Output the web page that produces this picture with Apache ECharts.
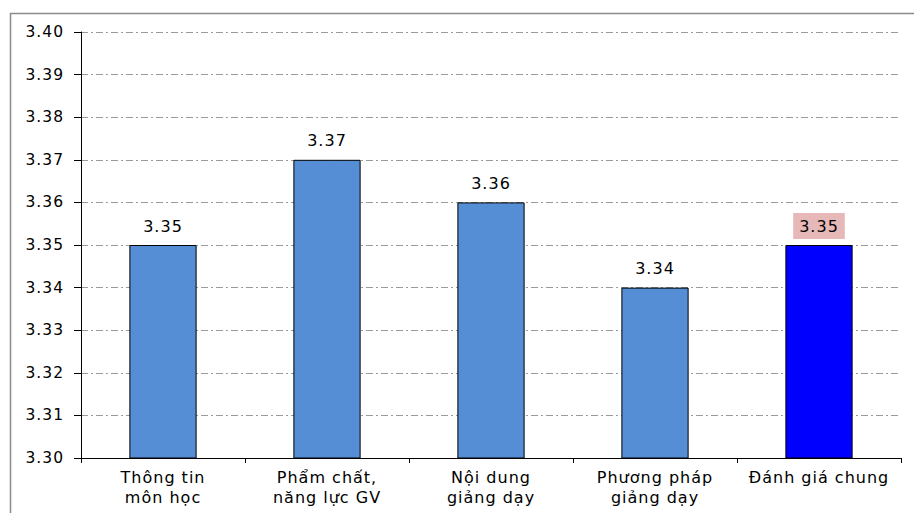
<!DOCTYPE html>
<html>
<head>
<meta charset="utf-8">
<script src="https://cdn.jsdelivr.net/npm/echarts@6/dist/echarts.min.js"></script>
<style>
  html, body { margin: 0; padding: 0; background: #fff; }
  #chart { width: 914px; height: 513px; }
  #chart text { letter-spacing: 1px; }
</style>
</head>
<body>
<div id="chart"></div>
<script>
// Survey scores per evaluation group
const categories = [
  'Thông tin\nmôn học',
  'Phẩm chất,\nnăng lực GV',
  'Nội dung\ngiảng dạy',
  'Phương pháp\ngiảng dạy',
  'Đánh giá chung'
];
const scores = [3.35, 3.37, 3.36, 3.34, 3.35];
const yMin = 3.30;
const yMax = 3.40;
const yStep = 0.01;

const FONT = '"DejaVu Sans", sans-serif';
const TEXT = '#000';
const lastIdx = scores.length - 1;

const chart = echarts.init(document.getElementById('chart'), null, { renderer: 'svg' });

chart.setOption({
  animation: false,
  backgroundColor: '#fff',
  grid: { left: 81, right: 13, top: 32, bottom: 55, containLabel: false },
  graphic: [{
    type: 'rect',
    left: 8, top: 11,
    shape: { width: 940, height: 540 },
    style: { fill: 'none', stroke: '#8c8c8c', lineWidth: 1.5 },
    silent: true
  }],
  xAxis: {
    type: 'category',
    data: categories,
    axisLine: { lineStyle: { color: '#000', width: 1 } },
    axisTick: { show: true, length: 5, lineStyle: { color: '#000' } },
    axisLabel: {
      color: TEXT, fontFamily: FONT, fontSize: 16, lineHeight: 20,
      margin: 9, interval: 0
    },
    splitLine: { show: false }
  },
  yAxis: {
    type: 'value',
    min: yMin, max: yMax, interval: yStep,
    axisLine: { show: true, lineStyle: { color: '#000', width: 1 } },
    axisTick: { show: true, length: 7, lineStyle: { color: '#000' } },
    axisLabel: {
      color: TEXT, fontFamily: FONT, fontSize: 15.5, margin: 17,
      formatter: v => v.toFixed(2)
    },
    splitLine: {
      show: true,
      lineStyle: { color: '#9a9a9a', width: 1, type: [7, 3, 2, 3] }
    }
  },
  series: [{
    type: 'bar',
    clip: true,
    barWidth: '41%',
    data: scores.map((v, i) => ({
      value: v,
      itemStyle: { color: i === lastIdx ? '#0000ff' : '#558ed5' },
      label: i === lastIdx ? { backgroundColor: '#e6b9b8' } : {}
    })),
    itemStyle: { borderColor: '#000', borderWidth: 1 },
    label: {
      show: true,
      position: 'top',
      distance: 6,
      padding: [5, 8],
      color: TEXT,
      fontFamily: FONT,
      fontSize: 16,
      formatter: p => p.value.toFixed(2)
    }
  }]
});
</script>
</body>
</html>
